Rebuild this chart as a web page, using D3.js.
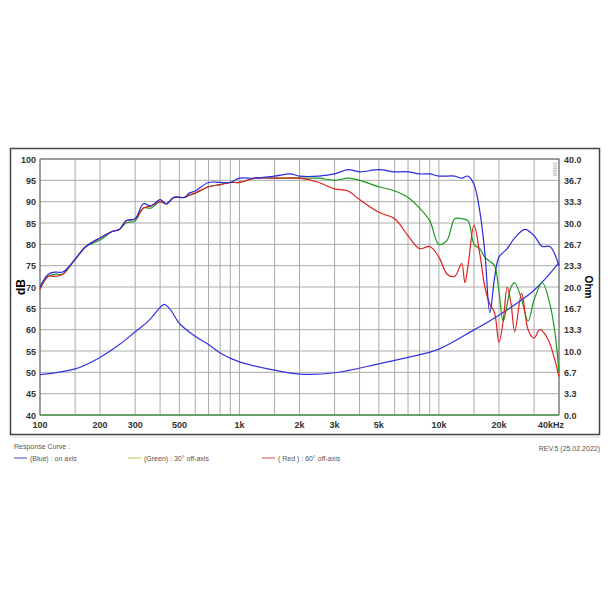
<!DOCTYPE html><html><head><meta charset="utf-8">
<script src="https://cdn.jsdelivr.net/npm/d3@7"></script>
<style>body{margin:0;background:#fff}</style></head><body>
<svg id="c" width="610" height="610"></svg>
<script>
const freqTicks=[100,200,300,500,1000,2000,3000,5000,10000,20000,40000];
const freqTickLabels=["100","200","300","500","1k","2k","3k","5k","10k","20k","40kHz"];
const gridFreqs=[100,150,200,300,400,500,600,700,800,900,1000,1500,2000,3000,4000,5000,6000,7000,8000,9000,10000,15000,20000,30000,40000];
const dbTicks=[40,45,50,55,60,65,70,75,80,85,90,95,100];
const ohmTickLabels=["0.0","3.3","6.7","10.0","13.3","16.7","20.0","23.3","26.7","30.0","33.3","36.7","40.0"];
const blueF=[100,110,120,130,150,170,200,230,250,270,300,330,360,400,430,470,530,560,600,700,800,900,1000,1200,1500,1800,2000,2500,3000,3500,4000,5000,6000,7000,8000,9000,10000,12000,13000,14000,15000,16000,17000,18000,19000,20000,22000,24000,27000,30000,33000,36000,40000];
const blueDb=[70,73,73.5,73.5,76.5,79.5,81.5,83,83.5,85.5,86,89.5,89,90.5,89.5,91,91,92,92.5,94.5,94.5,94.5,95.5,95.5,96,96.5,96,96,96.5,97.5,97,97.5,97,97,96.5,96.5,96,96,95.5,96,94,88,78,64,72,77,79,81.5,83.5,82,79.5,79.5,75];
const greenF=[100,110,120,130,150,170,200,230,250,270,300,330,360,400,430,470,530,560,600,700,800,900,1000,1200,1500,2000,2500,3000,3500,4000,5000,6000,7000,8000,9000,10000,11000,12000,13000,14000,15000,16000,17000,18000,19000,20000,21000,22000,23000,24000,26000,28000,30000,33000,36000,38000,40000];
const greenDb=[69.5,72.5,73,73,76.5,79.5,81,83,83.5,85,85.5,88.5,88.5,90,89.5,91,91,91.5,92,93.5,94,94.5,94.5,95.5,95.5,95.5,95.5,95,95.5,95,93.5,92.5,91,88.5,85.5,80,81,86,86,85.5,80,79,77,76,75,69,62,66,70,71,67,62,67,71,66,60,50];
const redF=[100,110,120,130,150,170,200,230,250,270,300,330,360,400,430,470,530,560,600,700,800,900,1000,1200,1500,2000,2500,3000,3500,4000,5000,6000,7000,8000,9000,10000,11000,12000,13000,13500,14000,15000,16000,17000,18000,19000,20000,21000,22000,23000,24000,26000,28000,30000,32000,35000,40000];
const redDb=[69.5,72.5,72.5,73,76.5,79.5,81.5,83,83.5,85.5,86,88.5,89,90,89.5,91,91,91.5,92,93.5,94,94.5,94.5,95.5,95.5,95.5,94.5,93,92.5,90.5,87.5,86,82,79,79.5,77,73,72.5,75.5,71,75,84.5,78,70,66,64,57,62,70,66,59.5,68.5,60,58,60,58,49];
const impF=[100,150,200,250,300,350,400,420,450,500,600,700,800,1000,1500,2000,3000,5000,7000,10000,15000,20000,30000,40000];
const impOhm=[6.3,7.2,9,11,13,14.7,16.8,17.3,16.5,14.3,12.3,11,9.7,8.3,7,6.4,6.6,8,9,10.3,13.3,15.6,19.5,23.8];

const svg=d3.select("#c");
const L=40,R=559,T=159,B=415;
const x=d3.scaleLog().domain([100,40000]).range([L,R]);
const y=d3.scaleLinear().domain([40,100]).range([B,T]);
const yo=d3.scaleLinear().domain([0,40]).range([B,T]);
svg.append("rect").attr("x",10.5).attr("y",148.5).attr("width",589).attr("height",286).attr("fill","none").attr("stroke","#444").attr("stroke-width",1.5);
const g=svg.append("g");
g.selectAll(".vg").data(gridFreqs).join("line").attr("x1",d=>x(d)).attr("x2",d=>x(d)).attr("y1",T).attr("y2",B).attr("stroke","#aaa").attr("stroke-width",1);
g.selectAll(".hg").data(dbTicks).join("line").attr("x1",L).attr("x2",R).attr("y1",d=>y(d)).attr("y2",d=>y(d)).attr("stroke","#aaa").attr("stroke-width",1);
g.append("rect").attr("x",L).attr("y",T).attr("width",R-L).attr("height",B-T).attr("fill","none").attr("stroke","#666");
const fnt="Liberation Sans, Arial, sans-serif";
g.selectAll(".yl").data(dbTicks).join("text").attr("x",L-4).attr("y",d=>y(d)+3.5).attr("text-anchor","end").attr("font-size",9).attr("font-weight","bold").attr("font-family",fnt).attr("fill","#333").text(d=>d);
g.selectAll(".yr").data(ohmTickLabels).join("text").attr("x",R+5).attr("y",(d,i)=>yo(i*40/12)+3.5).attr("font-size",9).attr("font-weight","bold").attr("font-family",fnt).attr("fill","#333").text(d=>d);
g.selectAll(".xl").data(freqTicks).join("text").attr("x",(d,i)=>i==freqTicks.length-1?x(d)-8:x(d)).attr("y",B+13).attr("text-anchor","middle").attr("font-size",9).attr("font-weight","bold").attr("font-family",fnt).attr("fill","#333").text((d,i)=>freqTickLabels[i]);
svg.append("text").attr("transform","translate(25,287) rotate(-90)").attr("text-anchor","middle").attr("font-size",12).attr("font-weight","bold").attr("font-family",fnt).text("dB");
svg.append("text").attr("transform","translate(585,287) rotate(90)").attr("text-anchor","middle").attr("font-size",10).attr("font-weight","bold").attr("font-family",fnt).text("Ohm");
svg.append("text").attr("transform","translate(553,162) rotate(90)").attr("font-size",6).attr("fill","#999").attr("font-family",fnt).text("S860");
const line=(fs,ys,sc)=>d3.line().curve(d3.curveCatmullRom.alpha(0.5)).x((d,i)=>x(fs[i])).y(d=>sc(d))(ys);
svg.append("line").attr("x1",L).attr("x2",R).attr("y1",B).attr("y2",B).attr("stroke","#3a3").attr("stroke-width",1);
svg.append("path").attr("d",line(impF,impOhm,yo)).attr("fill","none").attr("stroke","#3333dd").attr("stroke-width",1.2);
svg.append("path").attr("d",line(greenF,greenDb,y)).attr("fill","none").attr("stroke","#1a9a1a").attr("stroke-width",1.2);
svg.append("path").attr("d",line(redF,redDb,y)).attr("fill","none").attr("stroke","#e02020").attr("stroke-width",1.2);
svg.append("path").attr("d",line(blueF,blueDb,y)).attr("fill","none").attr("stroke","#2a2ae0").attr("stroke-width",1.2);
svg.append("line").attr("x1",10).attr("x2",600).attr("y1",437).attr("y2",437).attr("stroke","#ddd");
const lt=(t,xx,yy,a)=>svg.append("text").attr("x",xx).attr("y",yy).attr("font-size",7).attr("fill","#555").attr("font-family",fnt).attr("text-anchor",a||"start").text(t);
lt("Response Curve :",14,449);lt("REV.5 (25.02.2022)",600,451,"end");
[["(Blue)  : on axis","#4444aa",14],["(Green) : 30° off-axis","#aacc44",128],["( Red ) : 60° off-axis","#dd4444",262]].forEach(([t,c,xx])=>{svg.append("line").attr("x1",xx).attr("x2",xx+13).attr("y1",458).attr("y2",458).attr("stroke",c);lt(t,xx+16,460.5);});
</script></body></html>
